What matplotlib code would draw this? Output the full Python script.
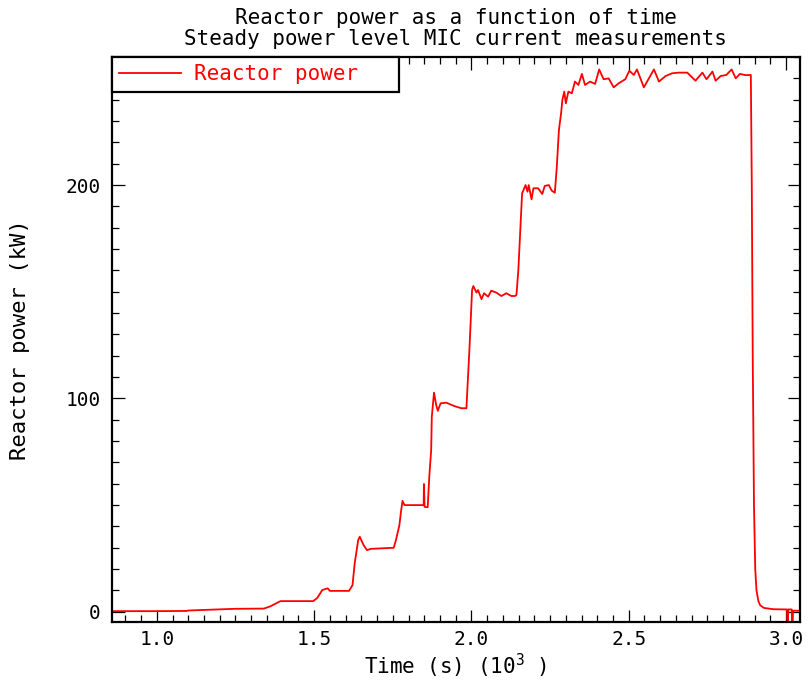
import matplotlib
matplotlib.use("Agg")
import matplotlib.pyplot as plt
from matplotlib.ticker import MultipleLocator

# Time in units of 10^3 s, reactor power in kW
time_ks = [
    0.856, 1.0, 1.095, 1.10, 1.25, 1.34, 1.36, 1.393, 1.45, 1.497,
    1.51, 1.526, 1.543, 1.55, 1.611, 1.622, 1.629, 1.640, 1.645, 1.657,
    1.668, 1.680, 1.753, 1.760, 1.771, 1.776, 1.781, 1.787, 1.845, 1.848,
    1.849, 1.851, 1.861, 1.866, 1.872, 1.874, 1.881, 1.888, 1.893, 1.902,
    1.920, 1.946, 1.968, 1.984, 1.994, 2.002, 2.006, 2.016, 2.021, 2.032,
    2.040, 2.053, 2.063, 2.079, 2.095, 2.111, 2.127, 2.138, 2.143, 2.149,
    2.157, 2.161, 2.168, 2.172, 2.178, 2.182, 2.191, 2.197, 2.212, 2.225,
    2.233, 2.246, 2.255, 2.265, 2.271, 2.278, 2.285, 2.289, 2.295, 2.300,
    2.308, 2.319, 2.329, 2.340, 2.351, 2.361, 2.377, 2.393, 2.406, 2.420,
    2.436, 2.452, 2.468, 2.489, 2.502, 2.516, 2.526, 2.548, 2.564, 2.580,
    2.596, 2.617, 2.638, 2.660, 2.686, 2.712, 2.734, 2.747, 2.766, 2.776,
    2.792, 2.810, 2.827, 2.840, 2.853, 2.872, 2.888, 2.891, 2.894, 2.898,
    2.902, 2.906, 2.912, 2.918, 2.930, 2.960, 3.003, 3.005, 3.007, 3.018,
    3.020, 3.022, 3.050,
]
power_kw = [
    0.3, 0.3, 0.4, 0.6, 1.4, 1.5, 2.5, 5.0, 5.0, 5.0,
    6.5, 10.2, 11.0, 9.8, 9.8, 12.5, 22.8, 33.6, 35.2, 31.3,
    28.9, 29.5, 30.0, 33.6, 40.6, 46.9, 52.0, 50.0, 50.0, 50.0,
    59.9, 49.2, 49.0, 63.3, 75.8, 91.4, 102.7, 96.9, 94.2, 97.7,
    98.0, 96.4, 95.4, 95.4, 124.2, 150.8, 152.7, 149.6, 150.8, 146.5,
    149.3, 147.7, 150.5, 149.6, 148.0, 149.3, 148.0, 148.0, 148.5, 160.0,
    183.6, 196.1, 198.5, 200.0, 196.9, 200.0, 193.3, 198.5, 198.5, 195.8,
    199.6, 200.0, 197.4, 196.4, 207.8, 225.8, 233.7, 239.9, 243.8, 238.3,
    243.8, 243.0, 248.5, 246.9, 252.1, 246.9, 248.5, 247.4, 254.2, 249.6,
    250.0, 245.8, 247.7, 249.6, 253.6, 251.6, 254.2, 245.8, 250.0, 254.2,
    248.5, 251.1, 252.4, 252.7, 252.7, 248.9, 252.7, 249.6, 253.2, 248.9,
    251.1, 251.6, 254.2, 250.0, 252.1, 251.5, 251.6, 200.0, 120.0, 50.0,
    20.0, 10.0, 5.0, 3.0, 1.8, 1.2, 1.1, -10.0, 1.1, 1.1,
    -10.0, 0.5, 0.5,
]

plt.rcParams["font.family"] = ["DejaVu Sans Mono"]
plt.rcParams["mathtext.fontset"] = "custom"
plt.rcParams["mathtext.rm"] = "DejaVu Sans Mono"

fig = plt.figure(figsize=(8.08, 6.84), dpi=100)
ax = fig.add_axes([0.138, 0.0906, 0.852, 0.826])

ax.plot(time_ks, power_kw, color="red", lw=1.3, label="Reactor power")

ax.set_xlim(0.856, 3.044)
ax.set_ylim(-4.8, 260)

ax.xaxis.set_major_locator(MultipleLocator(0.5))
ax.xaxis.set_minor_locator(MultipleLocator(0.05))
ax.yaxis.set_major_locator(MultipleLocator(100))
ax.yaxis.set_minor_locator(MultipleLocator(10))
ax.xaxis.set_major_formatter(plt.FormatStrFormatter("%.1f"))

ax.tick_params(which="both", direction="in", top=True, right=True, labelsize=14)
ax.tick_params(which="major", length=9, width=0.9, pad=6)
ax.tick_params(which="minor", length=5, width=0.9)
ax.tick_params(axis="y", which="major", pad=8)
for sp in ax.spines.values():
    sp.set_linewidth(1.6)

ax.set_xlabel(r"Time (s) ($\mathregular{10^3}$ )", fontsize=15, labelpad=2)
ax.set_ylabel("Reactor power (kW)", fontsize=16, labelpad=25)
ax.set_title("Reactor power as a function of time\nSteady power level MIC current measurements",
             fontsize=15, linespacing=1.05, pad=9)

leg = ax.legend(loc="upper left", bbox_to_anchor=(0, 1, 0.418, 0), mode="expand",
                borderaxespad=0, fancybox=False, framealpha=1, edgecolor="black",
                fontsize=15, handlelength=3.0, handletextpad=0.6, borderpad=0.35)
leg.get_frame().set_linewidth(1.6)
for txt in leg.get_texts():
    txt.set_color("red")

fig.savefig("out.png", dpi=100)
